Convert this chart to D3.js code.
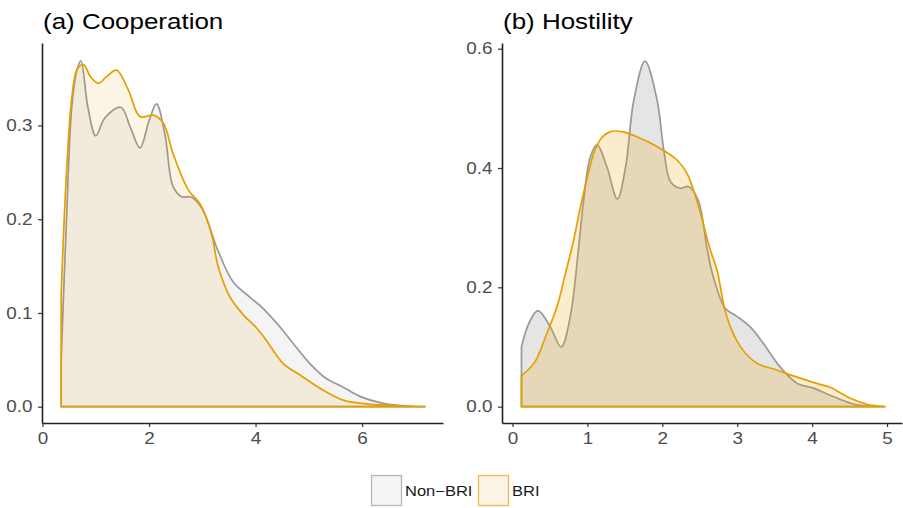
<!DOCTYPE html>
<html>
<head>
<meta charset="utf-8">
<script src="https://cdn.jsdelivr.net/npm/d3@7"></script>
<style>
  body { margin: 0; background: #fff; }
  text { font-family: "Liberation Sans", Arial, sans-serif; }
</style>
</head>
<body>
<svg width="903" height="508"></svg>
<script>
var W = 903, H = 508;
var SX = 1.18; // the picture is a bit wider than tall, text follows it

var groups = ["Non\u2212BRI", "BRI"];
var lineColors = ["#999999", "#E69F00"];

// (a) Cooperation, density
var coopNonX = [0.35, 0.35, 0.45, 0.55, 0.65, 0.72, 0.85, 1.0, 1.17, 1.47, 1.65, 1.83, 2.0, 2.14, 2.3, 2.45, 2.61, 2.8, 3.01, 3.29, 3.58, 3.89, 4.14, 4.46, 4.7, 5.02, 5.33, 5.64, 5.96, 6.39, 6.8, 7.18];
var coopNonY = [0.0, 0.05, 0.2, 0.32, 0.36, 0.369, 0.32, 0.289, 0.308, 0.3195, 0.298, 0.276, 0.305, 0.323, 0.29, 0.235, 0.224, 0.2235, 0.21, 0.167, 0.133, 0.117, 0.105, 0.085, 0.068, 0.046, 0.030, 0.021, 0.011, 0.0036, 0.001, 0.0];
var coopBriX = [0.35, 0.35, 0.45, 0.55, 0.65, 0.77, 0.9, 1.05, 1.2, 1.39, 1.61, 1.83, 2.08, 2.27, 2.45, 2.74, 2.95, 3.17, 3.30, 3.52, 3.77, 4.02, 4.2, 4.52, 4.83, 5.21, 5.64, 6.08, 6.6, 7.18];
var coopBriY = [0.0, 0.12, 0.25, 0.33, 0.36, 0.365, 0.352, 0.345, 0.352, 0.359, 0.338, 0.3095, 0.311, 0.3025, 0.270, 0.231, 0.217, 0.185, 0.149, 0.117, 0.098, 0.084, 0.071, 0.046, 0.034, 0.0196, 0.007, 0.003, 0.001, 0.0];

// (b) Hostility
var hostNonX = [0.12, 0.12, 0.22, 0.34, 0.5, 0.65, 0.77, 0.88, 0.95, 1.04, 1.13, 1.26, 1.40, 1.51, 1.62, 1.77, 1.93, 2.02, 2.11, 2.24, 2.35, 2.48, 2.6, 2.68, 2.84, 3.0, 3.17, 3.35, 3.57, 3.80, 4.02, 4.28, 4.6, 4.97];
var hostNonY = [0.0, 0.1006, 0.14, 0.161, 0.135, 0.10, 0.15, 0.263, 0.346, 0.419, 0.4386, 0.402, 0.348, 0.402, 0.514, 0.579, 0.514, 0.430, 0.377, 0.366, 0.369, 0.346, 0.263, 0.218, 0.165, 0.151, 0.134, 0.106, 0.067, 0.039, 0.031, 0.017, 0.003, 0.0];
var hostBriX = [0.12, 0.12, 0.3, 0.45, 0.6, 0.7, 0.8, 0.9, 1.0, 1.1, 1.2, 1.31, 1.46, 1.66, 1.93, 2.2, 2.33, 2.46, 2.64, 2.73, 2.86, 3.04, 3.26, 3.53, 3.75, 4.06, 4.24, 4.51, 4.73, 4.97];
var hostBriY = [0.0, 0.0515, 0.075, 0.12, 0.17, 0.22, 0.27, 0.33, 0.385, 0.43, 0.452, 0.461, 0.461, 0.4525, 0.436, 0.413, 0.391, 0.346, 0.263, 0.229, 0.151, 0.101, 0.073, 0.0615, 0.0515, 0.039, 0.0325, 0.014, 0.004, 0.0];

var coopXTicks = [0, 2, 4, 6];
var coopYTicks = [0.0, 0.1, 0.2, 0.3];
var hostXTicks = [0, 1, 2, 3, 4, 5];
var hostYTicks = [0.0, 0.2, 0.4, 0.6];

var panels = [
  { title: "(a) Cooperation", left: 42, right: 443, xdom: [-0.01, 7.52], ydom: [-0.0174, 0.388],
    xt: coopXTicks, yt: coopYTicks, alphas: [0.11, 0.1],
    series: [[coopNonX, coopNonY], [coopBriX, coopBriY]] },
  { title: "(b) Hostility", left: 502, right: 902, xdom: [-0.14, 5.2], ydom: [-0.0274, 0.6095],
    xt: hostXTicks, yt: hostYTicks, alphas: [0.25, 0.2],
    series: [[hostNonX, hostNonY], [hostBriX, hostBriY]] }
];

var svg = d3.select("svg");
var plotTop = 43, plotBottom = 423;

function stretchText(sel) {
  sel.attr("transform", "scale(" + SX + ",1)");
}

panels.forEach(function(p) {
  var x = d3.scaleLinear().domain(p.xdom).range([p.left, p.right]);
  var y = d3.scaleLinear().domain(p.ydom).range([plotBottom, plotTop]);
  var g = svg.append("g");

  var area = d3.area()
    .x(function(d) { return x(d[0]); })
    .y0(y(0))
    .y1(function(d) { return y(Math.max(0, d[1])); })
    .curve(d3.curveCatmullRom.alpha(0.5));

  p.series.forEach(function(s, i) {
    // first point is the baseline corner, the rest form the curve
    var pts = s[0].map(function(v, k) { return [v, s[1][k]]; }).slice(1);
    g.append("path")
      .datum(pts)
      .attr("d", area)
      .attr("fill", lineColors[i])
      .attr("fill-opacity", p.alphas[i])
      .attr("stroke", lineColors[i])
      .attr("stroke-width", 1.7)
      .attr("stroke-linejoin", "round");
  });

  var ya = g.append("g")
    .attr("transform", "translate(" + p.left + ",0)")
    .call(d3.axisLeft(y).tickValues(p.yt).tickSize(4).tickSizeOuter(0).tickPadding(4).tickFormat(d3.format(".1f")));
  var xa = g.append("g")
    .attr("transform", "translate(0," + plotBottom + ")")
    .call(d3.axisBottom(x).tickValues(p.xt).tickSize(4).tickSizeOuter(0).tickPadding(6).tickFormat(d3.format("d")));

  [ya, xa].forEach(function(a) {
    a.select(".domain").attr("stroke", "#222").attr("stroke-width", 1.6);
    a.selectAll(".tick line").attr("stroke", "#333").attr("stroke-width", 1.2);
    a.selectAll(".tick text")
      .attr("fill", "#4d4d4d")
      .style("font-size", "16px")
      .style("font-family", "'Liberation Sans', Arial, sans-serif")
      .call(stretchText);
  });

  g.append("g")
    .attr("transform", "translate(" + (p.left + 1) + ",29)")
    .append("text")
    .text(p.title)
    .attr("fill", "#000")
    .style("font-size", "22px")
    .call(stretchText);
});

// legend
var legend = svg.append("g");
var keyX = [371, 478];
groups.forEach(function(name, i) {
  legend.append("rect")
    .attr("x", keyX[i] + 0.5).attr("y", 475.5)
    .attr("width", 30).attr("height", 30)
    .attr("fill", lineColors[i]).attr("fill-opacity", 0.1)
    .attr("stroke", lineColors[i]).attr("stroke-opacity", 0.7)
    .attr("stroke-width", 1.3);
  legend.append("g")
    .attr("transform", "translate(" + (keyX[i] + 34) + ",496)")
    .append("text")
    .text(name)
    .attr("fill", "#1a1a1a")
    .style("font-size", "14px")
    .call(stretchText);
});
</script>
</body>
</html>
